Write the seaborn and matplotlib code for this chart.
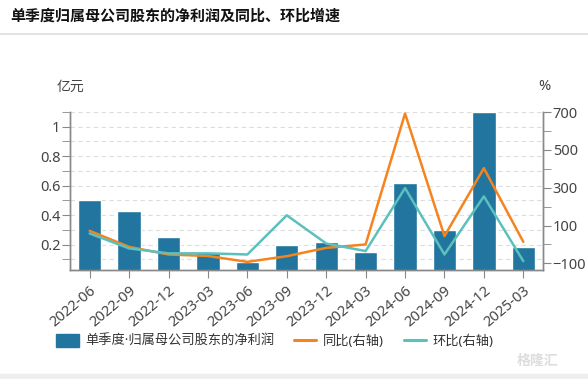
import pandas as pd
import matplotlib
matplotlib.use("Agg")
import matplotlib.pyplot as plt
import seaborn as sns
from matplotlib.lines import Line2D
from matplotlib.patches import Patch, Rectangle
from matplotlib.ticker import MultipleLocator

# quarterly data
quarters = ["2022-06", "2022-09", "2022-12", "2023-03", "2023-06", "2023-09",
            "2023-12", "2024-03", "2024-06", "2024-09", "2024-12", "2025-03"]
net_profit = [0.50, 0.43, 0.25, 0.15, 0.08, 0.20, 0.22, 0.15, 0.62, 0.30, 1.10, 0.18]  # 亿元
yoy = [72, -13, -53, -61, -92, -62, -18, 0, 692, 44, 403, 14]  # 同比 %
qoq = [58, -21, -47, -47, -53, 154, 5, -35, 298, -53, 254, -88]  # 环比 %

bar_label = "单季度·归属母公司股东的净利润"
yoy_label = "同比(右轴)"
qoq_label = "环比(右轴)"

df = pd.DataFrame({"quarter": quarters, "profit": net_profit, "yoy": yoy, "qoq": qoq})

sns.set_style("white")
# Noto Sans first so digits and the middle dot stay narrow, CJK falls through
plt.rcParams["font.family"] = ["Noto Sans", "Noto Sans CJK SC", "DejaVu Sans"]

bar_color = "#21759f"
yoy_color = "#f5841f"
qoq_color = "#5bc0be"
axis_gray = "#888888"
text_gray = "#444444"

fig = plt.figure(figsize=(5.88, 3.79), dpi=100)
ax = fig.add_axes([70 / 588, 1 - 270 / 379, (543 - 70) / 588, (270 - 112) / 379])

sns.barplot(data=df, x="quarter", y="profit", color=bar_color, width=0.59,
            saturation=1, ax=ax, zorder=2)
ax.set_xlim(-0.5, len(quarters) - 0.5)
ax.set_ylim(0.027, 1.1)
ax.yaxis.set_minor_locator(MultipleLocator(0.1))
ax.set_yticks([0.2, 0.4, 0.6, 0.8, 1.0])
ax.set_yticklabels(["0.2", "0.4", "0.6", "0.8", "1"])
ax.grid(True, which="both", axis="y", linestyle=(0, (4, 3)), color="#dddddd", linewidth=0.8, zorder=0)
ax.set_axisbelow(True)
ax.set_xlabel("")
ax.set_ylabel("")

ax2 = ax.twinx()
sns.lineplot(data=df, x="quarter", y="yoy", color=yoy_color, linewidth=1.8, sort=False, ax=ax2)
sns.lineplot(data=df, x="quarter", y="qoq", color=qoq_color, linewidth=1.8, sort=False, ax=ax2)
ax2.set_ylim(-135, 700)
ax2.set_yticks([-100, 100, 300, 500, 700])
ax2.yaxis.set_minor_locator(MultipleLocator(100))
ax2.set_ylabel("")
ax2.set_xlabel("")

for a in (ax, ax2):
    for side in ("left", "right", "bottom"):
        a.spines[side].set_color(axis_gray)
        a.spines[side].set_linewidth(1)
    a.spines["top"].set_visible(False)

ax.tick_params(axis="y", which="both", direction="out", length=6, color=axis_gray,
               labelsize=10.5, labelcolor=text_gray, pad=1, left=True)
ax.tick_params(axis="x", direction="out", length=6, color=axis_gray,
               labelsize=10.5, labelcolor=text_gray, bottom=True)
ax2.tick_params(axis="y", which="both", direction="out", length=6, color=axis_gray,
                labelsize=10.5, labelcolor=text_gray, pad=1, right=True)
for lbl in ax.get_xticklabels():
    lbl.set_rotation(40)
    lbl.set_ha("right")
    lbl.set_rotation_mode("anchor")

fig.text(57 / 588, 1 - 87 / 379, "亿元", fontsize=10, color=text_gray, va="center")
fig.text(538 / 588, 1 - 86 / 379, "%", fontsize=10.5, color=text_gray, va="center")

fig.text(10 / 588, 1 - 17 / 379, "单季度归属母公司股东的净利润及同比、环比增速",
         fontsize=10.8, fontweight="bold", color="#111111", va="center")
fig.add_artist(Line2D([0, 1], [1 - 34 / 379, 1 - 34 / 379], color="#dddddd", linewidth=1.2))
fig.add_artist(Rectangle((0, 0), 1, 5 / 379, color="#eeeeee", transform=fig.transFigure))

handles = [Patch(facecolor=bar_color, edgecolor=bar_color),
           Line2D([0], [0], color=yoy_color, linewidth=2.2),
           Line2D([0], [0], color=qoq_color, linewidth=2.2)]
fig.legend(handles, [bar_label, yoy_label, qoq_label], loc="center",
           bbox_to_anchor=(275 / 588, 1 - 341 / 379), ncol=3, frameon=False,
           fontsize=9.5, handlelength=1.7, handleheight=1.1, columnspacing=1.5,
           handletextpad=0.5, labelcolor="#333333")

fig.text(538 / 588, 1 - 361 / 379, "格隆汇", fontsize=10, color="#dddddd",
         ha="center", va="center", fontweight="bold")

fig.savefig("out.png", dpi=100)
